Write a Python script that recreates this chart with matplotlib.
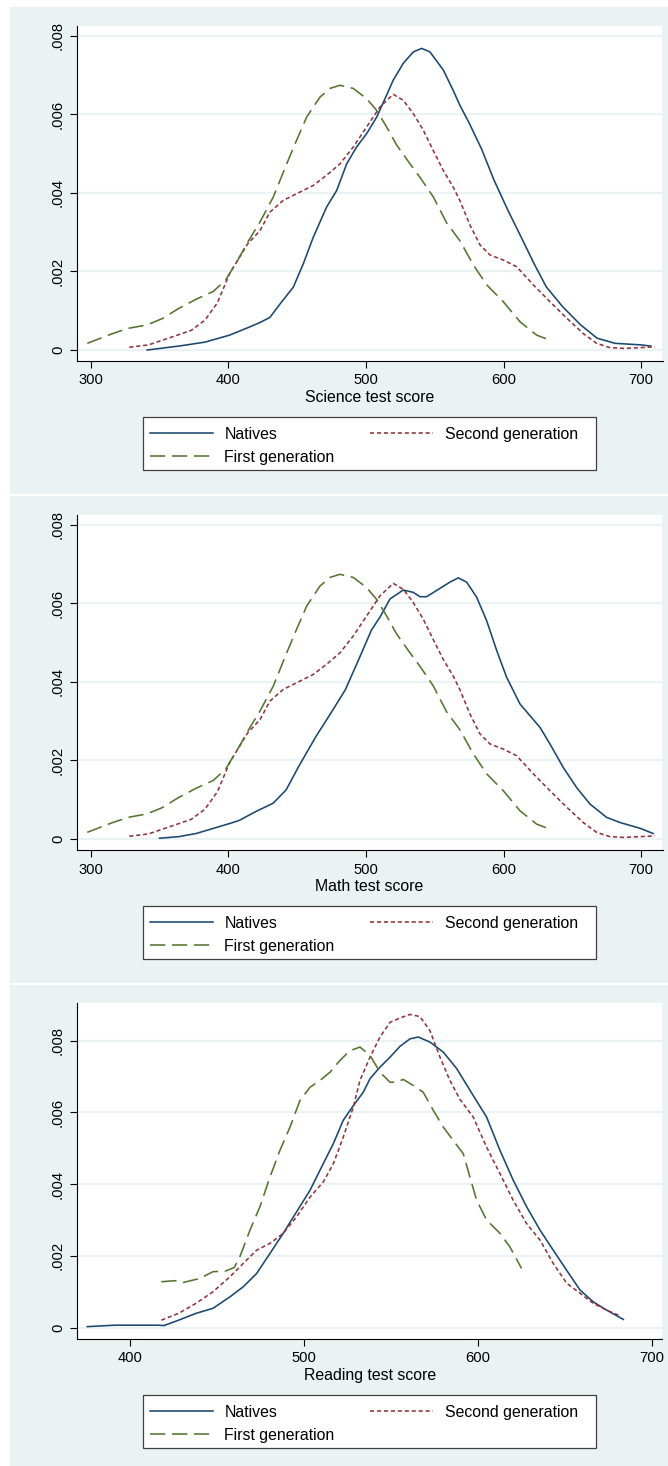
import matplotlib
matplotlib.use("Agg")
import matplotlib.pyplot as plt
from matplotlib.patches import Rectangle

plt.rcParams['font.family'] = ['Liberation Sans', 'DejaVu Sans']
plt.rcParams['lines.scale_dashes'] = False

# ---------------- data ----------------
# Science natives
sci_nat_x = [341, 364, 383, 401, 415, 423, 430.2, 437.5, 447.2, 454.4, 461.7, 471.4, 478.7, 486, 493.2, 500.5,
             507.8, 515, 519.8, 527.1, 534.4, 540.5, 546.5, 556.2, 563.4, 568.3, 575, 584, 593, 603, 612, 622,
             631, 643, 656, 668, 681, 700, 707]
sci_nat_y = [0.0, 0.0001, 0.0002, 0.00038, 0.00058, 0.0007, 0.00083, 0.00117, 0.0016, 0.00219, 0.00287, 0.00364,
             0.00406, 0.00474, 0.00517, 0.00551, 0.00593, 0.00649, 0.00687, 0.0073, 0.00759, 0.00768, 0.00759,
             0.00713, 0.00661, 0.00623, 0.00578, 0.00512, 0.00433, 0.00357, 0.00293, 0.00221, 0.00161, 0.0011,
             0.00064, 0.0003, 0.00017, 0.00013, 0.0001]

# Second generation (science and math panels show the same curve)
sec_x = [328, 342, 358, 373, 383, 392, 401, 414, 423, 430.2, 439.9, 452, 461.7, 471.4, 481.1, 490.8, 500.5,
         510.2, 519.8, 527.1, 534.4, 541.6, 548.9, 556.2, 563.4, 568.3, 575.6, 582.8, 590.1, 599.8, 609.5,
         621.6, 633.7, 645.9, 657.9, 667.6, 677.3, 688, 710]
sec_y = [0.00007, 0.00013, 0.00032, 0.0005, 0.00076, 0.0012, 0.00195, 0.0027, 0.00304, 0.00351, 0.00381,
         0.00402, 0.00419, 0.00445, 0.00474, 0.00517, 0.00568, 0.00619, 0.00651, 0.00636, 0.00602, 0.0056,
         0.00508, 0.00457, 0.00415, 0.0038, 0.00318, 0.00268, 0.00242, 0.00229, 0.00212, 0.00166, 0.00123,
         0.00081, 0.00042, 0.00017, 0.00006, 0.00004, 0.00008]

# First generation (science and math panels show the same curve)
fst_x = [297.5, 314.5, 327, 341, 352, 364, 377, 389, 398, 407, 415, 423, 432.6, 442.4, 449.6, 456.9, 466.6,
         473.8, 481.1, 490.8, 500.5, 507.8, 515, 522.3, 532, 539.2, 548.9, 558.6, 568.3, 578, 587.7, 599.8,
         611.9, 624, 633.7]
fst_y = [0.00017, 0.0004, 0.00055, 0.00064, 0.0008, 0.00106, 0.0013, 0.00149, 0.00178, 0.0023, 0.0028, 0.00326,
         0.00389, 0.00474, 0.00534, 0.00593, 0.00644, 0.00666, 0.00674, 0.00666, 0.0064, 0.0061, 0.00568,
         0.00522, 0.00474, 0.0044, 0.0039, 0.00324, 0.00278, 0.00217, 0.00166, 0.00123, 0.00072, 0.00038,
         0.00025]

# Math natives
mat_nat_x = [350, 364, 376.6, 389, 401.5, 407.7, 420, 432.5, 442, 451, 463.5, 476, 485, 494.6, 504, 510.2,
             517.4, 527.1, 534.4, 539.2, 544.1, 551.4, 561, 567.1, 573.2, 580.4, 587.7, 595, 602.2, 611.9, 619.2,
             626.5, 633.7, 643.4, 653.1, 662.8, 674.9, 684.6, 699.4, 708.7]
mat_nat_y = [0.00002, 0.00006, 0.00014, 0.00027, 0.0004, 0.00047, 0.0007, 0.00091, 0.00125, 0.00184, 0.0026,
             0.00329, 0.0038, 0.00456, 0.00532, 0.00565, 0.00611, 0.00634, 0.00628, 0.00617, 0.00617, 0.00633,
             0.00654, 0.00665, 0.00654, 0.00616, 0.00556, 0.0048, 0.00412, 0.00344, 0.00314, 0.00284, 0.00242,
             0.00182, 0.00131, 0.00089, 0.00055, 0.00042, 0.00027, 0.00014]

# Reading
rea_nat_x = [375.5, 391.4, 416, 419.6, 428, 438, 447.7, 457.5, 465.1, 472.8, 480.5, 488.1, 495.8, 503.5, 511.1,
             516.9, 522.6, 528.4, 534.1, 538, 543.7, 549.5, 555.2, 561, 565.7, 572.4, 580.1, 587.8, 597.3, 605,
             612.7, 620.3, 628, 635.7, 643.3, 651, 658.7, 666.3, 674, 683.6]
rea_nat_y = [0.00003, 0.00007, 0.00007, 0.00006, 0.00021, 0.0004, 0.00054, 0.00086, 0.00114, 0.00151, 0.00207,
             0.00263, 0.00323, 0.00383, 0.00457, 0.00513, 0.00578, 0.00619, 0.00656, 0.00694, 0.00726, 0.00754,
             0.00784, 0.00805, 0.0081, 0.00796, 0.00768, 0.00722, 0.00647, 0.00587, 0.00494, 0.00411, 0.00337,
             0.00272, 0.00216, 0.0016, 0.00105, 0.00072, 0.00049, 0.00023]
rea_sec_x = [418, 428, 438, 447.7, 457.5, 465.1, 472.8, 480.5, 488.1, 495.8, 503.5, 511.1, 516.9, 522.6, 528.4,
             532.2, 538, 543.7, 549.5, 555.2, 561, 566.7, 572.4, 578.2, 583.9, 589.7, 597.3, 605, 612.7, 620.3,
             628, 635.7, 643.3, 651, 658.7, 666.3, 674, 681.6]
rea_sec_y = [0.00021, 0.0004, 0.00068, 0.001, 0.00142, 0.00179, 0.00216, 0.00235, 0.00263, 0.00309, 0.00364,
             0.00406, 0.00457, 0.00531, 0.00615, 0.00689, 0.00754, 0.0081, 0.00851, 0.00863, 0.00873, 0.00867,
             0.00828, 0.00754, 0.00689, 0.00636, 0.00587, 0.00503, 0.00429, 0.00355, 0.0029, 0.00244, 0.00179,
             0.00124, 0.00096, 0.00068, 0.00049, 0.00033]
rea_fst_x = [418, 425.7, 430.6, 440, 447.7, 455, 460, 463.2, 469, 474.7, 480.5, 486.2, 492, 497.7, 503.5, 509.2,
             515, 520.7, 526.5, 532.2, 538, 543.7, 549.5, 553.3, 557.1, 562.8, 568.6, 574.3, 580.1, 585.8, 591.6,
             595.4, 599.3, 605, 612.7, 618.4, 625.1]
rea_fst_y = [0.00128, 0.00131, 0.00126, 0.00137, 0.00156, 0.00158, 0.00168, 0.00198, 0.00272, 0.00337, 0.0042,
             0.00494, 0.00559, 0.00633, 0.0067, 0.00689, 0.00712, 0.00745, 0.00772, 0.00782, 0.00759, 0.00712,
             0.00684, 0.00684, 0.00692, 0.00675, 0.00656, 0.00606, 0.00559, 0.00522, 0.00485, 0.0042, 0.00355,
             0.003, 0.00263, 0.00225, 0.00165]

series_labels = ["Natives", "Second generation", "First generation"]
y_ticks = [0, 0.002, 0.004, 0.006, 0.008]
y_ticklabels = ["0", ".002", ".004", ".006", ".008"]
x_ticks_sm = [300, 400, 500, 600, 700]
x_ticks_r = [400, 500, 600, 700]
x_titles = ["Science test score", "Math test score", "Reading test score"]

# ---------------- style ----------------
W, H = 668, 1466
BG = '#EAF2F3'
C_NAT = '#1A476F'
C_SEC = '#90353B'
C_FST = '#55752F'
LW = 1.15
DASH_SEC = (0, (3.0, 2.0))
DASH_FST = (0, (11.0, 4.8))
FS_TICK = 10.6
FS_TXT = 11.4

fig = plt.figure(figsize=(W / 100, H / 100), dpi=100)
fig.patch.set_facecolor('white')


def fx(px):
    return px / W


def fy(py):
    return 1 - py / H


panels = [
    dict(bg=(7, 494), ax=(26, 361), xlim=(289.8, 715.5), ylim=(-0.00028, 0.00825), xticks=x_ticks_sm,
         data=[(sci_nat_x, sci_nat_y), (sec_x, sec_y), (fst_x, fst_y)], leg=(416.7, 470)),
    dict(bg=(496, 983), ax=(515, 850), xlim=(289.8, 715.5), ylim=(-0.00028, 0.00825), xticks=x_ticks_sm,
         data=[(mat_nat_x, mat_nat_y), (sec_x, sec_y), (fst_x, fst_y)], leg=(905.7, 959.3)),
    dict(bg=(985, 1466), ax=(1003.3, 1339), xlim=(369.4, 706.1), ylim=(-0.000315, 0.00904), xticks=x_ticks_r,
         data=[(rea_nat_x, rea_nat_y), (rea_sec_x, rea_sec_y), (rea_fst_x, rea_fst_y)], leg=(1395, 1448.3)),
]

fs_px = FS_TXT * 100 / 72

for i, p in enumerate(panels):
    t, b = p['bg']
    fig.add_artist(Rectangle((fx(10), fy(b)), fx(W) - fx(10), (b - t) / H, transform=fig.transFigure,
                             facecolor=BG, edgecolor='none', zorder=0))
    at, ab = p['ax']
    ax = fig.add_axes([fx(76.7), fy(ab), (662.5 - 76.7) / W, (ab - at) / H])
    ax.set_zorder(1)
    ax.set_facecolor('white')
    ax.set_xlim(*p['xlim'])
    ax.set_ylim(*p['ylim'])
    ax.set_axisbelow(True)
    ax.yaxis.grid(True, color=BG, lw=1.6)
    ax.xaxis.grid(False)
    for s in ['top', 'right']:
        ax.spines[s].set_visible(False)
    for s in ['left', 'bottom']:
        ax.spines[s].set_color('black')
        ax.spines[s].set_linewidth(0.8)
    ax.set_xticks(p['xticks'])
    ax.set_yticks(y_ticks)
    ax.set_yticklabels(y_ticklabels, rotation=90, va='center')
    ax.tick_params(axis='both', direction='out', length=5, width=0.8, colors='black', labelsize=FS_TICK)
    ax.tick_params(axis='x', pad=4)
    ax.tick_params(axis='y', pad=3.5)
    ax.set_xlabel(x_titles[i], fontsize=FS_TXT, labelpad=1.5)

    (nx, ny), (sx, sy), (gx, gy) = p['data']
    l_nat, = ax.plot(nx, ny, color=C_NAT, lw=LW, solid_joinstyle='round')
    l_sec, = ax.plot(sx, sy, color=C_SEC, lw=LW, linestyle=DASH_SEC)
    l_fst, = ax.plot(gx, gy, color=C_FST, lw=LW, linestyle=DASH_FST)

    lt, lb = p['leg']
    fig.add_artist(Rectangle((fx(142.7), fy(lb)), (595.7 - 142.7) / W, (lb - lt) / H,
                             transform=fig.transFigure, facecolor='white', edgecolor='#404040',
                             lw=0.9, zorder=2))
    leg = fig.legend([l_nat, l_fst, l_sec], [series_labels[0], series_labels[2], series_labels[1]],
                     ncol=2, loc='upper left', bbox_to_anchor=(fx(150), fy(lt + 10)),
                     bbox_transform=fig.transFigure, frameon=False, borderpad=0,
                     handlelength=63 / fs_px, handletextpad=11.5 / fs_px, columnspacing=2.25,
                     labelspacing=0.5, fontsize=FS_TXT, borderaxespad=0)
    leg.set_zorder(3)

fig.savefig('out.png', dpi=100, facecolor='white')
